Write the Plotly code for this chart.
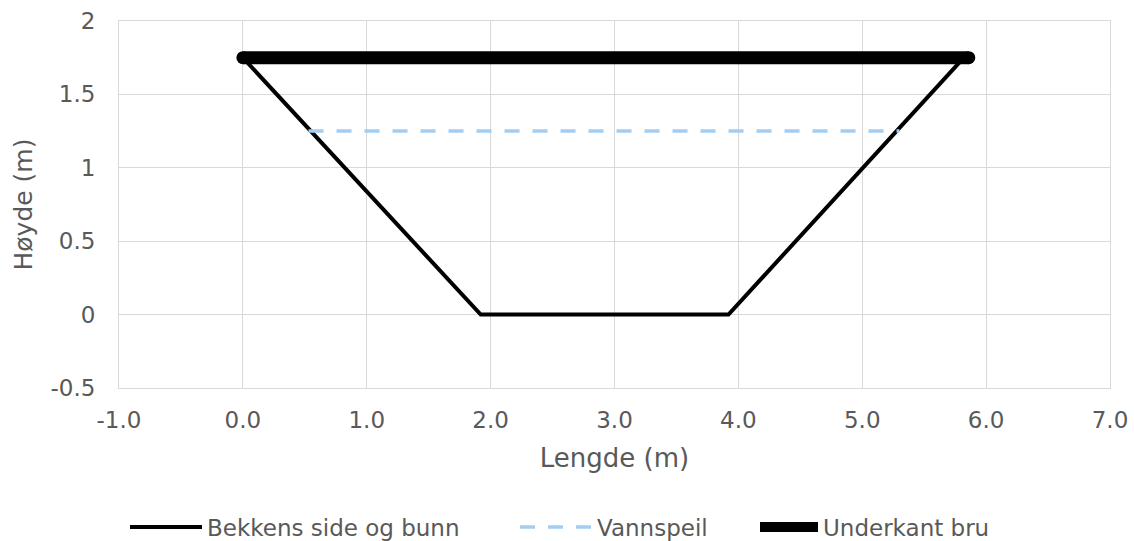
import plotly.graph_objects as go

# Data
bekk_x = [0.0, 1.92, 3.92, 5.82]
bekk_y = [1.75, 0.0, 0.0, 1.75]
vann_x = [0.53, 5.30]
vann_y = [1.25, 1.25]
bru_x = [0.0, 5.86]
bru_y = [1.75, 1.75]

x_ticks = [-1, 0, 1, 2, 3, 4, 5, 6, 7]
x_ticktext = ["-1.0", "0.0", "1.0", "2.0", "3.0", "4.0", "5.0", "6.0", "7.0"]
y_ticks = [-0.5, 0, 0.5, 1, 1.5, 2]
y_ticktext = ["-0.5", "0", "0.5", "1", "1.5", "2"]

x_title = "Lengde (m)"
y_title = "Høyde (m)"
names = ["Bekkens side og bunn", "Vannspeil", "Underkant bru"]

txt = "#595959"
grid = "#d9d9d9"
blue = "#a3cdf2"
font = "DejaVu Sans"
W, H = 1134, 541
L, R, T, B = 119, 24, 21, 153

fig = go.Figure()
fig.add_trace(go.Scatter(x=bekk_x, y=bekk_y, mode="lines", name=names[0],
                         line=dict(color="#000000", width=4), legend="legend"))
fig.add_trace(go.Scatter(x=vann_x, y=vann_y, mode="lines", name=names[1],
                         line=dict(color=blue, width=3.5, dash="15px,13px"),
                         legend="legend2"))
fig.add_trace(go.Scatter(x=bru_x, y=bru_y, mode="lines+markers", name=names[2],
                         line=dict(color="#000000", width=13),
                         marker=dict(color="#000000", size=13), showlegend=False))
# legend-only entry for the bridge line (no markers in legend sample)
fig.add_trace(go.Scatter(x=[None], y=[None], mode="lines", name=names[2],
                         line=dict(color="#000000", width=13), legend="legend3"))

leg_common = dict(orientation="h", xref="container", yref="container",
                  xanchor="left", yanchor="middle", y=1 - 527 / H,
                  font=dict(size=23, color=txt),
                  bgcolor="rgba(0,0,0,0)", borderwidth=0)

fig.update_layout(
    width=W, height=H,
    margin=dict(l=L, r=R, t=T, b=B, autoexpand=False),
    paper_bgcolor="white", plot_bgcolor="white",
    font=dict(family=font, color=txt, size=23),
    showlegend=True,
    legend=dict(x=125 / W, itemwidth=72, **leg_common),
    legend2=dict(x=515 / W, itemwidth=72, **leg_common),
    legend3=dict(x=755 / W, itemwidth=58, **leg_common),
    annotations=[dict(text=y_title, textangle=-90, xref="paper", yref="paper",
                      x=(23 - L) / (W - L - R), y=0.5, xanchor="center",
                      yanchor="middle", showarrow=False,
                      font=dict(size=25, color=txt, family=font))],
)
fig.update_xaxes(range=[-1, 7], tickvals=x_ticks, ticktext=x_ticktext,
                 showgrid=True, gridcolor=grid, gridwidth=1, automargin=False,
                 showline=True, linecolor=grid, mirror=True, zeroline=False,
                 ticks="", ticklabelstandoff=11,
                 title=dict(text=x_title, font=dict(size=26, color=txt), standoff=17))
fig.update_yaxes(range=[-0.5, 2], tickvals=y_ticks, ticktext=y_ticktext,
                 showgrid=True, gridcolor=grid, gridwidth=1, automargin=False,
                 showline=True, linecolor=grid, mirror=True, zeroline=False,
                 ticks="", ticklabelstandoff=18)

fig.write_html("out.html")
